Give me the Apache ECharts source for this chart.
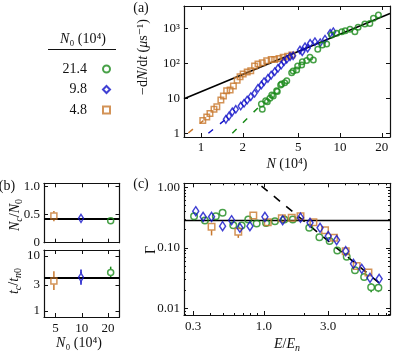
<!DOCTYPE html>
<html><head><meta charset="utf-8">
<script src="https://cdn.jsdelivr.net/npm/echarts@6/dist/echarts.min.js"></script>
<style>html,body{margin:0;padding:0;background:#fff}#chart{width:415px;height:352px}</style>
</head><body><div id="chart"></div>
<script>
// ---------------- Panel (a): -dN/dt (μs^-1) versus N (10^4) ----------------
const aOrangeN    = [1.03,1.10,1.16,1.24,1.30,1.39,1.45,1.53,1.62,1.71,1.82,1.91,2.01,2.15,2.28,2.43,2.57,2.76,2.97,3.20,3.39,3.64,3.90,4.20,4.50];
const aOrangeRate = [2.3,2.9,3.7,4.85,5.75,8.9,11.6,16.5,17.3,22.4,33,41.5,49.5,56,61.5,84,95,104,118,129,129,138,150,158,172];
const aBlueN      = [1.51,1.59,1.68,1.78,1.93,2.04,2.15,2.28,2.43,2.57,2.72,2.84,3.03,3.20,3.39,3.58,3.78,3.95,4.14,4.37,4.60,5.15,5.35,5.60,5.85,6.10,6.60,7.20,7.80,8.50,8.95];
const aBlueRate   = [2.5,3.1,4.1,4.85,6.0,7.2,8.9,11.1,13.9,19.3,24,29.8,37,46,57.5,72,89,111,130,155,165,240,215,297,270,372,414,388,488,720,800];
const aGreenN     = [2.72,2.76,2.92,3.00,3.13,3.23,3.31,3.50,3.54,3.74,3.80,4.00,4.14,4.49,4.60,4.88,4.96,5.30,5.36,5.76,6.08,6.43,6.92,7.46,8.02,8.71,9.46,10.3,10.9,11.8,12.8,13.5,15.1,16.4,17.4,18.9];
const aGreenRate  = [6.9,4.85,8.5,8.0,10,12.4,11.6,16.5,15.5,24,25.6,28,31.8,54,60,64,84,89,111,120,148,124,251,333,355,645,720,800,850,935,800,1070,1320,1380,1950,2400];
const aFitN = [0.7545, 22.9], aFitRate = [9.7, 2650];
const aGuideOrangeN = [0.81, 1.04], aGuideOrangeRate = [1.02, 2.3];
const aGuideBlueN   = [1.13, 1.50], aGuideBlueRate   = [1.0, 2.5];
const aGuideGreenN  = [1.68, 2.70], aGuideGreenRate  = [1.0, 6.5];
const aXTicks = [1, 2, 5, 10, 20],   aXLabels = ['1', '2', '5', '10', '20'];
const aYTicks = [1, 10, 100, 1000],  aYLabels = ['1', '10', '10²', '10³'];

// ---------------- Legend ----------------
const legendNames = ['21.4', '9.8', '4.8'];

// ---------------- Panel (b) ----------------
const bN0 = [4.8, 9.8, 21.4];
const bNcRatio = [0.47, 0.43, 0.39], bNcLow = [0.38, 0.38, 0.36], bNcHigh = [0.56, 0.48, 0.42];
const bNcMean = 0.42;
const bTc = [3.5, 4.1, 5.0], bTcLow = [2.4, 3.0, 3.9], bTcHigh = [5.3, 5.7, 6.4];
const bTcMean = 4.0;
const bXTicks = [5, 10, 20], bXLabels = ['5', '10', '20'];
const bTopTicks = [0, 0.5, 1.0], bTopLabels = ['0', '0.5', '1.0'];
const bBotTicks = [1, 3, 10], bBotLabels = ['1', '3', '10'];

// ---------------- Panel (c): Γ versus E/En ----------------
const cGreenE  = [0.305,0.367,0.442,0.496,0.595,0.686,0.768,0.886,1.04,1.21,1.42,1.64,2.17,2.58,3.07,3.50,4.11,4.73,5.53,6.23,7.05];
const cGreenG  = [0.333,0.283,0.333,0.379,0.237,0.234,0.294,0.253,0.258,0.276,0.294,0.294,0.214,0.150,0.129,0.090,0.071,0.0427,0.033,0.0224,0.0218];
const cBlueE   = [0.314,0.356,0.411,0.496,0.578,0.666,0.79,1.02,1.38,1.87,2.20,2.61,3.0,3.46,4.04,4.61,5.31,6.11,7.14];
const cBlueG   = [0.403,0.325,0.325,0.228,0.286,0.214,0.228,0.325,0.286,0.315,0.259,0.214,0.156,0.134,0.088,0.0544,0.045,0.0319,0.0307];
const cOrangeE = [0.411,0.648,0.837,1.07,1.36,1.61,1.87,2.33,2.84,3.31,4.04,4.87,5.95];
const cOrangeG = [0.222,0.184,0.342,0.265,0.309,0.313,0.333,0.265,0.196,0.146,0.088,0.05,0.039];
const cGreenErrIdx = [19, 20],   cGreenErrLow = [0.0185, 0.0185], cGreenErrHigh = [0.026, 0.025];
const cBlueErrIdx = [0, 3, 5],   cBlueErrLow = [0.355, 0.2, 0.185], cBlueErrHigh = [0.46, 0.26, 0.245];
const cOrangeErrIdx = [0, 1],    cOrangeErrLow = [0.16, 0.146],   cOrangeErrHigh = [0.25, 0.21];
const cPlateau = 0.283;
const cSlopeE = [0.962, 7.87], cSlopeG = [1.05, 0.022];
const cXTicks = [0.3, 1, 3], cXLabels = ['0.3', '1.0', '3.0'];
const cXMinor = [0.4,0.5,0.6,0.7,0.8,0.9,2,4,5,6,7,8];
const cYTicks = [0.01, 0.1, 1], cYLabels = ['0.01', '0.10', '1.00'];
const cYMinor = [0.008,0.009,0.02,0.03,0.04,0.05,0.06,0.07,0.08,0.09,0.2,0.3,0.4,0.5,0.6,0.7,0.8,0.9];

// ---------------- styling ----------------
const FONT = '"Liberation Serif","DejaVu Serif",serif';
const INK = '#111';
const GREEN = '#1a8a1a', BLUE = '#1010c8', ORANGE = '#c8782d';
const L = Math.log10;
const lin = v => v;
const pairs = (xs, ys, fx, fy) => xs.map((x, i) => [fx(x), fy(ys[i])]);
// axis index of the main (labelled) axes of each panel
const AX = {a: 0, bTop: 2, bBot: 4, c: 6};

function mkAxis(grid, pos, lo, hi, ticks, labels, opt) {
  opt = opt || {};
  const ax = {
    type: 'value', gridIndex: grid, position: pos, min: lo, max: hi,
    axisLine: {show: opt.line !== false, onZero: false, lineStyle: {color: INK, width: 1.2}},
    axisTick: {show: true, inside: true, length: opt.len || 4, customValues: ticks, lineStyle: {color: INK, width: 1}},
    axisLabel: {show: false},
    splitLine: {show: false}, minorTick: {show: false}
  };
  if (labels) {
    ax.axisLabel = {show: true, customValues: ticks, margin: opt.margin || 4, fontFamily: FONT, fontSize: 13, color: INK,
      formatter: v => { const i = ticks.findIndex(t => Math.abs(t - v) < 1e-6); return i >= 0 ? labels[i] : ''; }};
  }
  return ax;
}

const grids = [
  {left: 184, top: 6, width: 206, height: 131},
  {left: 44, top: 183.3, width: 75.5, height: 59.4},
  {left: 44, top: 250, width: 75.5, height: 67},
  {left: 184, top: 183.3, width: 206, height: 131.7}
].map(g => Object.assign(g, {containLabel: false, outerBoundsMode: 'none'}));

const aX = [L(0.7545), L(22.9)], aY = [L(0.783), L(4335)];
const bX = [L(3.70), L(27.0)], bTopY = [0, 1.05], bBotY = [L(0.778), L(12.85)];
const cX = [L(0.257), L(8.59)], cY = [L(0.00776), L(1.164)];

const xAxis = [
  mkAxis(0, 'bottom', aX[0], aX[1], aXTicks.map(L), aXLabels),
  mkAxis(0, 'top',    aX[0], aX[1], aXTicks.map(L), null),
  mkAxis(1, 'bottom', bX[0], bX[1], bXTicks.map(L), null),
  mkAxis(1, 'top',    bX[0], bX[1], bXTicks.map(L), null),
  mkAxis(2, 'bottom', bX[0], bX[1], bXTicks.map(L), bXLabels, {margin: 5}),
  mkAxis(2, 'top',    bX[0], bX[1], bXTicks.map(L), null),
  mkAxis(3, 'bottom', cX[0], cX[1], cXTicks.map(L), cXLabels, {margin: 5}),
  mkAxis(3, 'top',    cX[0], cX[1], cXTicks.map(L), null),
  mkAxis(3, 'bottom', cX[0], cX[1], cXMinor.map(L), null, {len: 2, line: false}),
  mkAxis(3, 'top',    cX[0], cX[1], cXMinor.map(L), null, {len: 2, line: false})
];
const yAxis = [
  mkAxis(0, 'left',  aY[0], aY[1], aYTicks.map(L), aYLabels),
  mkAxis(0, 'right', aY[0], aY[1], aYTicks.map(L), null),
  mkAxis(1, 'left',  bTopY[0], bTopY[1], bTopTicks, bTopLabels),
  mkAxis(1, 'right', bTopY[0], bTopY[1], bTopTicks, null),
  mkAxis(2, 'left',  bBotY[0], bBotY[1], bBotTicks.map(L), bBotLabels),
  mkAxis(2, 'right', bBotY[0], bBotY[1], bBotTicks.map(L), null),
  mkAxis(3, 'left',  cY[0], cY[1], cYTicks.map(L), cYLabels),
  mkAxis(3, 'right', cY[0], cY[1], cYTicks.map(L), null),
  mkAxis(3, 'left',  cY[0], cY[1], cYMinor.map(L), null, {len: 2, line: false}),
  mkAxis(3, 'right', cY[0], cY[1], cYMinor.map(L), null, {len: 2, line: false})
];

function hollow(color, w) { return {color: 'transparent', borderColor: color, borderWidth: w || 1.5}; }
function scatter(name, ai, data, symbol, size, color) {
  return {type: 'scatter', name, xAxisIndex: ai, yAxisIndex: ai, data, symbol, symbolSize: size,
    itemStyle: hollow(color), z: 4, silent: true};
}
function line(ai, data, color, width, dash, z) {
  return {type: 'line', xAxisIndex: ai, yAxisIndex: ai, data, showSymbol: false, symbol: 'none', silent: true,
    lineStyle: {color, width, type: dash || 'solid'}, z: z || 3};
}
function errBars(ai, data, color, gap) {
  return {type: 'custom', xAxisIndex: ai, yAxisIndex: ai, data, silent: true, z: 3,
    renderItem: (params, api) => {
      const x = api.value(0);
      const pLo = api.coord([x, api.value(1)]), pMid = api.coord([x, api.value(2)]), pHi = api.coord([x, api.value(3)]);
      const ch = [];
      if (pLo[1] > pMid[1] + gap) ch.push({type: 'line', shape: {x1: pLo[0], y1: pLo[1], x2: pMid[0], y2: pMid[1] + gap}, style: {stroke: color, lineWidth: 1.5}});
      if (pHi[1] < pMid[1] - gap) ch.push({type: 'line', shape: {x1: pHi[0], y1: pHi[1], x2: pMid[0], y2: pMid[1] - gap}, style: {stroke: color, lineWidth: 1.5}});
      return {type: 'group', children: ch};
    }};
}
function errData(xs, ys, lows, highs, fy, idx) {
  return idx.map((k, j) => [L(xs[k]), fy(lows[j]), fy(ys[k]), fy(highs[j])]);
}

const series = [
  // (a)
  line(AX.a, pairs(aFitN, aFitRate, L, L), '#000', 1.6, 'solid', 3),
  line(AX.a, pairs(aGuideOrangeN, aGuideOrangeRate, L, L), ORANGE, 1.5, [6, 9], 2),
  line(AX.a, pairs(aGuideBlueN, aGuideBlueRate, L, L), BLUE, 1.5, [6, 9], 2),
  line(AX.a, pairs(aGuideGreenN, aGuideGreenRate, L, L), GREEN, 1.5, [6, 9], 2),
  scatter('4.8', AX.a, pairs(aOrangeN, aOrangeRate, L, L), 'rect', 5.5, ORANGE),
  scatter('9.8', AX.a, pairs(aBlueN, aBlueRate, L, L), 'diamond', [5, 7.5], BLUE),
  scatter('21.4', AX.a, pairs(aGreenN, aGreenRate, L, L), 'circle', 5.5, GREEN),
  // (b) top
  line(AX.bTop, [[bX[0], bNcMean], [bX[1], bNcMean]], '#000', 2, 'solid', 3),
  scatter('4.8', AX.bTop, [[L(bN0[0]), bNcRatio[0]]], 'rect', 6, ORANGE),
  scatter('9.8', AX.bTop, [[L(bN0[1]), bNcRatio[1]]], 'diamond', [5, 8], BLUE),
  scatter('21.4', AX.bTop, [[L(bN0[2]), bNcRatio[2]]], 'circle', 6, GREEN),
  errBars(AX.bTop, errData(bN0, bNcRatio, [bNcLow[0]], [bNcHigh[0]], lin, [0]), ORANGE, 3.5),
  errBars(AX.bTop, errData(bN0, bNcRatio, [bNcLow[1]], [bNcHigh[1]], lin, [1]), BLUE, 4),
  errBars(AX.bTop, errData(bN0, bNcRatio, [bNcLow[2]], [bNcHigh[2]], lin, [2]), GREEN, 3.5),
  // (b) bottom
  line(AX.bBot, [[bX[0], L(bTcMean)], [bX[1], L(bTcMean)]], '#000', 2, 'solid', 3),
  scatter('4.8', AX.bBot, [[L(bN0[0]), L(bTc[0])]], 'rect', 6, ORANGE),
  scatter('9.8', AX.bBot, [[L(bN0[1]), L(bTc[1])]], 'diamond', [5, 8], BLUE),
  scatter('21.4', AX.bBot, [[L(bN0[2]), L(bTc[2])]], 'circle', 6, GREEN),
  errBars(AX.bBot, errData(bN0, bTc, [bTcLow[0]], [bTcHigh[0]], L, [0]), ORANGE, 3.5),
  errBars(AX.bBot, errData(bN0, bTc, [bTcLow[1]], [bTcHigh[1]], L, [1]), BLUE, 4),
  errBars(AX.bBot, errData(bN0, bTc, [bTcLow[2]], [bTcHigh[2]], L, [2]), GREEN, 3.5),
  // (c)
  line(AX.c, [[cX[0], L(cPlateau)], [cX[1], L(cPlateau)]], '#000', 1.6, 'solid', 3),
  line(AX.c, pairs(cSlopeE, cSlopeG, L, L), '#000', 1.6, [8, 8], 3),
  scatter('21.4', AX.c, pairs(cGreenE, cGreenG, L, L), 'circle', 6.5, GREEN),
  scatter('4.8', AX.c, pairs(cOrangeE, cOrangeG, L, L), 'rect', 6.5, ORANGE),
  scatter('9.8', AX.c, pairs(cBlueE, cBlueG, L, L), 'diamond', [6, 9], BLUE),
  errBars(AX.c, errData(cGreenE, cGreenG, cGreenErrLow, cGreenErrHigh, L, cGreenErrIdx), GREEN, 3.5),
  errBars(AX.c, errData(cBlueE, cBlueG, cBlueErrLow, cBlueErrHigh, L, cBlueErrIdx), BLUE, 4.5),
  errBars(AX.c, errData(cOrangeE, cOrangeG, cOrangeErrLow, cOrangeErrHigh, L, cOrangeErrIdx), ORANGE, 3.5)
];

const RICH = {
  i: {fontStyle: 'italic', fontFamily: FONT, fontSize: 14, fill: INK},
  sub: {fontStyle: 'italic', fontFamily: FONT, fontSize: 10, fill: INK, verticalAlign: 'bottom', lineHeight: 10},
  subr: {fontFamily: FONT, fontSize: 10, fill: INK, verticalAlign: 'bottom', lineHeight: 10}
};
function txt(x, y, text, rot, size) {
  return {type: 'text', x, y, rotation: rot || 0, silent: true,
    style: {text, fontFamily: FONT, fontSize: size || 14, fill: INK, align: 'center', verticalAlign: 'middle', lineHeight: 18, rich: RICH}};
}

const option = {
  animation: false,
  backgroundColor: '#fff',
  grid: grids, xAxis, yAxis, series,
  legend: {
    orient: 'vertical', left: 55, top: 57, itemGap: 6.5, itemWidth: 7, itemHeight: 7, align: 'right',
    selectedMode: false, data: legendNames,
    formatter: n => '{n|' + n + '}',
    textStyle: {rich: {n: {width: 27, align: 'right', fontFamily: FONT, fontSize: 14, color: INK, lineHeight: 16, padding: [0, 11, 0, 0]}}}
  },
  graphic: [
    txt(141, 8, '(a)'), txt(7, 186, '(b)'), txt(141, 184, '(c)'),
    txt(143, 57, '−d{i|N}/d{i|t} ({i|μ}s⁻¹)', Math.PI / 2),
    txt(287, 164, '{i|N} (10⁴)'),
    txt(83, 39, '{i|N}₀ (10⁴)'),
    {type: 'line', silent: true, shape: {x1: 48, y1: 49.5, x2: 116, y2: 49.5}, style: {stroke: INK, lineWidth: 1.2}},
    txt(15, 215, '{i|N}{sub|c}/{i|N}{subr|0}', Math.PI / 2),
    txt(14, 281, '{i|t}{sub|c}/{i|t}{sub|n}{subr|0}', Math.PI / 2),
    txt(79, 343, '{i|N}₀ (10⁴)'),
    txt(151, 250, 'Γ', Math.PI / 2),
    txt(287, 344, '{i|E}/{i|E}{sub|n}')
  ]
};
echarts.init(document.getElementById('chart'), null, {renderer: 'canvas'}).setOption(option);
</script></body></html>
